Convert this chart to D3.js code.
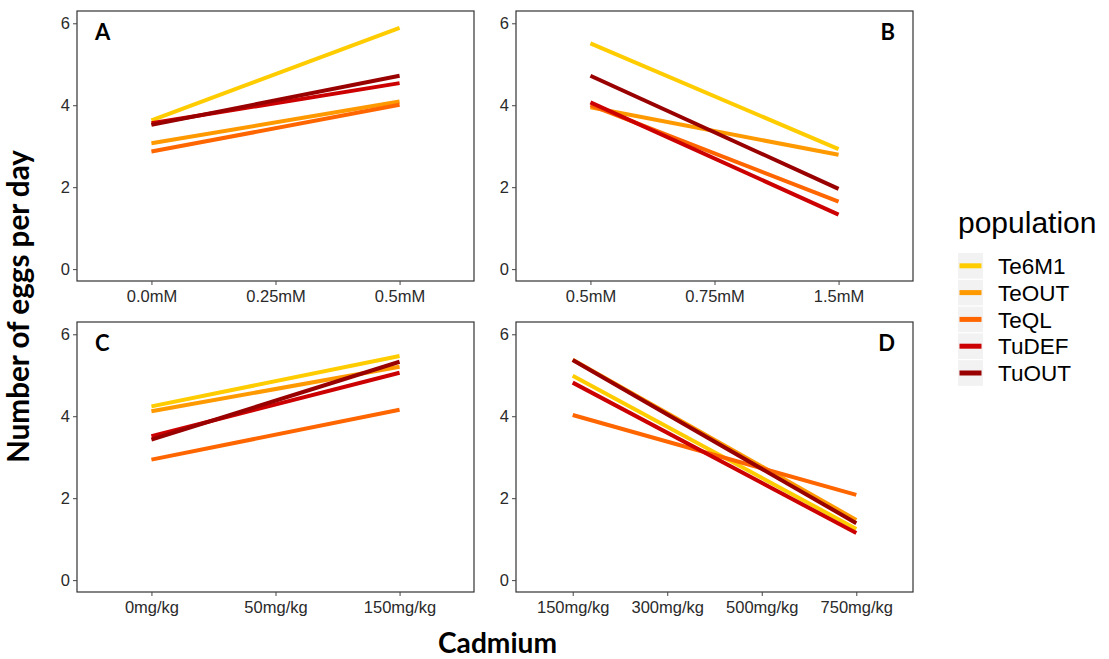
<!DOCTYPE html>
<html>
<head>
<meta charset="utf-8">
<script src="https://cdn.jsdelivr.net/npm/d3@7"></script>
<style>
  body { margin: 0; background: #fff; }
  svg { display: block; }
</style>
</head>
<body>
<svg id="chart" width="1109" height="659"></svg>
<script>
// Populations and their line colours
const populations = ["Te6M1", "TeOUT", "TeQL", "TuDEF", "TuOUT"];
const popColors = ["#FFCC00", "#FF9900", "#FF6600", "#CC0000", "#990000"];

// Shared y ticks
const yTicks = [0, 2, 4, 6];

// Cadmium dose levels for each panel
const dosesA = ["0.0mM", "0.25mM", "0.5mM"];
const dosesB = ["0.5mM", "0.75mM", "1.5mM"];
const dosesC = ["0mg/kg", "50mg/kg", "150mg/kg"];
const dosesD = ["150mg/kg", "300mg/kg", "500mg/kg", "750mg/kg"];

// Eggs per day at the lowest and highest dose, one pair per population
const eggsA = [[3.63, 5.89], [3.07, 4.09], [2.87, 4.01], [3.56, 4.54], [3.52, 4.72]];
const eggsB = [[5.51, 2.93], [3.95, 2.79], [4.00, 1.65], [4.07, 1.33], [4.72, 1.96]];
const eggsC = [[4.24, 5.47], [4.12, 5.21], [2.94, 4.16], [3.51, 5.06], [3.43, 5.33]];
const eggsD = [[4.99, 1.25], [5.38, 1.47], [4.03, 2.08], [4.82, 1.15], [5.37, 1.39]];

const panelLetters = ["A", "B", "C", "D"];

const svg = d3.select("#chart");
const panelW = 397, panelH = 270;
const layout = [
  { doses: dosesA, eggs: eggsA, x0: 77,  y0: 11,  letterRight: false },
  { doses: dosesB, eggs: eggsB, x0: 516, y0: 11,  letterRight: true },
  { doses: dosesC, eggs: eggsC, x0: 77,  y0: 322, letterRight: false },
  { doses: dosesD, eggs: eggsD, x0: 516, y0: 322, letterRight: true }
];

const tickFont = "'Liberation Sans', Arial, sans-serif";
const titleFont = "Lato, 'Open Sans', sans-serif";

const y = d3.scaleLinear().domain([-0.29, 6.3]).range([panelH, 0]);

layout.forEach((p, pi) => {
  const g = svg.append("g").attr("transform", `translate(${p.x0},${p.y0})`);
  const x = d3.scalePoint().domain(p.doses).range([0, panelW]).padding(0.6);

  // lines from the first to the last dose level
  const first = p.doses[0], last = p.doses[p.doses.length - 1];
  populations.forEach((pop, i) => {
    const v = p.eggs[i];
    g.append("line")
      .attr("x1", x(first)).attr("y1", y(v[0]))
      .attr("x2", x(last)).attr("y2", y(v[1]))
      .attr("stroke", popColors[i])
      .attr("stroke-width", 4)
      .attr("stroke-linecap", "butt");
  });

  // panel border
  g.append("rect")
    .attr("x", 0).attr("y", 0).attr("width", panelW).attr("height", panelH)
    .attr("fill", "none").attr("stroke", "#333").attr("stroke-width", 1.2);

  // axes
  const yAxis = g.append("g").call(
    d3.axisLeft(y).tickValues(yTicks).tickSize(4).tickPadding(3).tickFormat(d3.format("d"))
  );
  const xAxis = g.append("g").attr("transform", `translate(0,${panelH})`).call(
    d3.axisBottom(x).tickSize(4).tickPadding(5)
  );
  [yAxis, xAxis].forEach(a => {
    a.select(".domain").remove();
    a.selectAll(".tick line").attr("stroke", "#444");
    a.selectAll(".tick text")
      .attr("fill", "#2a2a2a")
      .style("font-family", tickFont)
      .style("font-size", "16.5px");
  });

  // panel letter
  g.append("text")
    .attr("x", p.letterRight ? panelW - 18 : 18)
    .attr("y", 29)
    .attr("text-anchor", p.letterRight ? "end" : "start")
    .style("font-family", titleFont)
    .style("font-weight", "bold")
    .style("font-size", "22px")
    .attr("fill", "#000")
    .text(panelLetters[pi]);
});

// Fit a bold title to a given width
function fitWidth(sel, target) {
  const w = sel.node().getComputedTextLength();
  const fs = parseFloat(sel.style("font-size"));
  sel.style("font-size", (fs * target / w) + "px");
}

// y axis title
const yTitle = svg.append("text")
  .attr("transform", "translate(29,306.5) rotate(-90)")
  .attr("text-anchor", "middle")
  .style("font-family", titleFont)
  .style("font-weight", "bold")
  .style("font-size", "24px")
  .attr("fill", "#000")
  .text("Number of eggs per day");
fitWidth(yTitle, 313);

// x axis title
const xTitle = svg.append("text")
  .attr("x", 497.5).attr("y", 653)
  .attr("text-anchor", "middle")
  .style("font-family", titleFont)
  .style("font-weight", "bold")
  .style("font-size", "24px")
  .attr("fill", "#000")
  .text("Cadmium");
fitWidth(xTitle, 119);

// legend
const legend = svg.append("g").attr("transform", "translate(958,0)");
legend.append("text")
  .attr("x", 0).attr("y", 233)
  .style("font-family", tickFont)
  .style("font-size", "30px")
  .attr("fill", "#000")
  .text("population");

const keyTop = 253, keyStep = 26.8;
populations.forEach((pop, i) => {
  const ky = keyTop + i * keyStep;
  legend.append("rect")
    .attr("x", 0).attr("y", ky).attr("width", 25).attr("height", keyStep - 1.2)
    .attr("fill", "#F2F2F2");
  legend.append("line")
    .attr("x1", 1.5).attr("x2", 23.5)
    .attr("y1", ky + (keyStep - 1.2) / 2).attr("y2", ky + (keyStep - 1.2) / 2)
    .attr("stroke", popColors[i]).attr("stroke-width", 5);
  legend.append("text")
    .attr("x", 40).attr("y", ky + (keyStep - 1.2) / 2)
    .attr("dy", "0.36em")
    .style("font-family", tickFont)
    .style("font-size", "22.5px")
    .attr("fill", "#000")
    .text(pop);
});
</script>
</body>
</html>
